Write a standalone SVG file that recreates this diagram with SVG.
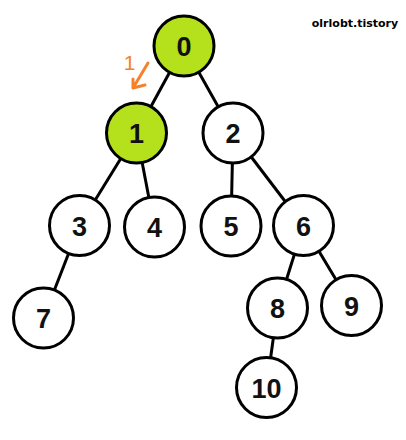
<svg xmlns="http://www.w3.org/2000/svg" width="406" height="440" viewBox="0 0 406 440">
<style>
.n circle{fill:#fff;stroke:#000;stroke-width:3}
.n.v circle{fill:#b4e01c}
.n text{font-family:"Liberation Sans",Arial,sans-serif;font-weight:bold;font-size:27px;text-anchor:middle;fill:#111}
.e line{stroke:#000;stroke-width:3}
</style>
<rect width="406" height="440" fill="#fff"/>
<g id="edges" class="e">
<line x1="184" y1="46" x2="136.5" y2="133"/>
<line x1="184" y1="46" x2="233" y2="133"/>
<line x1="136.5" y1="133" x2="79.5" y2="225.5"/>
<line x1="136.5" y1="133" x2="154.5" y2="227"/>
<line x1="233" y1="133" x2="231" y2="226"/>
<line x1="233" y1="133" x2="303.5" y2="225.5"/>
<line x1="79.5" y1="225.5" x2="43.5" y2="318"/>
<line x1="303.5" y1="225.5" x2="277.5" y2="308"/>
<line x1="303.5" y1="225.5" x2="351.5" y2="305.5"/>
<line x1="277.5" y1="308" x2="266.5" y2="387.5"/>
</g>
<g id="node0" class="n v"><circle cx="184" cy="46" r="30"/><text x="184" y="56">0</text></g>
<g id="node1" class="n v"><circle cx="136.5" cy="133" r="30"/><text x="136.5" y="143">1</text></g>
<g id="node2" class="n"><circle cx="233" cy="133" r="30"/><text x="233" y="143">2</text></g>
<g id="node3" class="n"><circle cx="79.5" cy="225.5" r="30"/><text x="79.5" y="235.5">3</text></g>
<g id="node4" class="n"><circle cx="154.5" cy="227" r="30"/><text x="154.5" y="237">4</text></g>
<g id="node5" class="n"><circle cx="231" cy="226" r="30"/><text x="231" y="236">5</text></g>
<g id="node6" class="n"><circle cx="303.5" cy="225.5" r="30"/><text x="303.5" y="235.5">6</text></g>
<g id="node7" class="n"><circle cx="43.5" cy="318" r="30"/><text x="43.5" y="328">7</text></g>
<g id="node8" class="n"><circle cx="277.5" cy="308" r="30"/><text x="277.5" y="318">8</text></g>
<g id="node9" class="n"><circle cx="351.5" cy="305.5" r="30"/><text x="351.5" y="315.5">9</text></g>
<g id="node10" class="n"><circle cx="266.5" cy="387.5" r="30"/><text x="266.5" y="397.5">10</text></g>
<g id="step">
<text x="129.5" y="70" font-family="Liberation Sans, Arial, sans-serif" font-size="21" fill="#f5822a" text-anchor="middle">1</text>
<path d="M148 63 L133 88 M133 79 L133 88 L145 85" fill="none" stroke="#f5822a" stroke-width="3" stroke-linecap="round" stroke-linejoin="round"/>
</g>
<text x="355" y="27" font-family="DejaVu Sans, sans-serif" font-weight="bold" font-size="11" text-anchor="middle" fill="#000">olrlobt.tistory</text>
</svg>
